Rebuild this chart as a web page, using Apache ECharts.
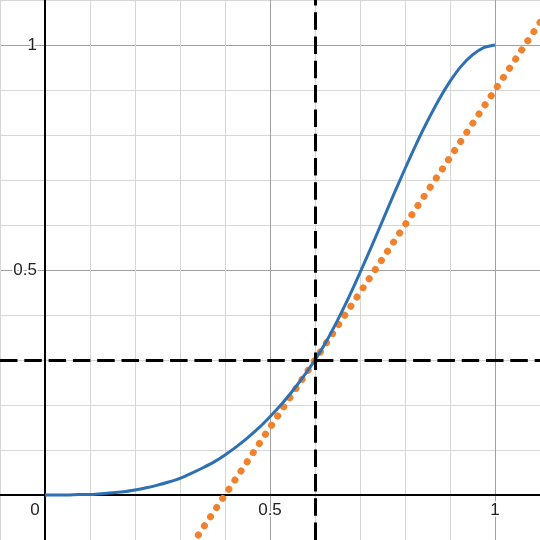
<!DOCTYPE html>
<html>
<head>
<meta charset="utf-8">
<script src="https://cdn.jsdelivr.net/npm/echarts@6/dist/echarts.min.js"></script>
<style>
html,body{margin:0;padding:0;background:#fff}
#c{width:540px;height:540px}
</style>
</head>
<body>
<div id="c"></div>
<script>
// Blue curve
const curveX = [0, 0.025, 0.05, 0.075, 0.1, 0.125, 0.15, 0.175, 0.2, 0.225, 0.25, 0.275, 0.3, 0.325, 0.35, 0.375, 0.4, 0.425, 0.45, 0.475, 0.5, 0.525, 0.55, 0.575, 0.6, 0.625, 0.65, 0.675, 0.7, 0.725, 0.75, 0.775, 0.8, 0.825, 0.85, 0.875, 0.9, 0.925, 0.95, 0.975, 1.0];
const curveY = [0, 0.000, 0.000, 0.001, 0.001, 0.003, 0.005, 0.007, 0.011, 0.016, 0.022, 0.029, 0.037, 0.048, 0.060, 0.073, 0.089, 0.107, 0.127, 0.149, 0.174, 0.201, 0.231, 0.264, 0.300, 0.341, 0.388, 0.439, 0.494, 0.551, 0.609, 0.668, 0.725, 0.780, 0.831, 0.878, 0.919, 0.953, 0.978, 0.994, 1.000];
// Orange dotted tangent line (end points beyond the visible window)
const tangentX = [0.3, 1.2];
const tangentY = [-0.15, 1.2];
// Dashed guide lines
const guideX = 0.6;
const guideY = 0.3;
// Tick labels
const xTickLabels = {0: '0', 5: '0.5', 10: '1'};
const yTickLabels = {5: '0.5', 10: '1'};

const MINOR = '#d6d6d6', MAJOR = '#a0a0a0';
const FONT = 'Liberation Sans, Arial, Helvetica, sans-serif';
const AXIS_MIN = -0.1, AXIS_MAX = 1.1, SIZE = 540;
// pixel distance of the zero line from the bottom / left edge
const zeroOffset = -SIZE * (0 - AXIS_MIN) / (AXIS_MAX - AXIS_MIN);

const chart = echarts.init(document.getElementById('c'), null, {renderer: 'canvas'});
const curveData = curveX.map((x, i) => [x, curveY[i]]);
const tangentData = tangentX.map((x, i) => [x, tangentY[i]]);

function axisCommon(labels, isX) {
  return {
    type: 'value',
    position: isX ? 'bottom' : 'left',
    offset: zeroOffset,
    min: AXIS_MIN,
    max: AXIS_MAX,
    interval: 0.1,
    axisLine: {onZero: false, lineStyle: {color: '#000', width: 2}},
    axisTick: {show: false},
    splitLine: {show: true, lineStyle: {color: [MINOR, MAJOR, MINOR, MINOR, MINOR], width: 1}},
    axisLabel: {
      show: true,
      margin: isX ? 7 : 8,
      fontSize: 17,
      fontFamily: FONT,
      color: '#222',
      textBorderColor: '#fff',
      textBorderWidth: 3,
      showMinLabel: true,
      showMaxLabel: true,
      hideOverlap: false,
      formatter: function (v) {
        const k = Math.round(v * 10);
        const t = labels[k];
        if (t === undefined) return '';
        if (isX && k === 0) return '{z|0}';
        return t;
      },
      rich: {z: {fontSize: 17, fontFamily: FONT, color: '#222', padding: [0, 20, 0, 0]}}
    }
  };
}

chart.setOption({
  animation: false,
  backgroundColor: '#fff',
  grid: {left: 0, right: 0, top: 0, bottom: 0, containLabel: false, outerBoundsMode: 'none'},
  xAxis: axisCommon(xTickLabels, true),
  yAxis: axisCommon(yTickLabels, false),
  series: [
    {
      type: 'line',
      data: tangentData,
      showSymbol: false,
      clip: true,
      z: 3,
      lineStyle: {color: '#f0822e', width: 7, type: [0.1, 10.9], cap: 'round'}
    },
    {
      type: 'line',
      data: curveData,
      showSymbol: false,
      smooth: 0.2,
      clip: true,
      z: 4,
      lineStyle: {color: '#2d70b3', width: 3}
    },
    {
      type: 'line',
      data: [],
      z: 5,
      markLine: {
        silent: true,
        symbol: ['none', 'none'],
        label: {show: false},
        lineStyle: {color: '#000', width: 3, type: [17.5, 6.8]},
        data: [{xAxis: guideX}, {yAxis: guideY}]
      }
    }
  ]
});
</script>
</body>
</html>
